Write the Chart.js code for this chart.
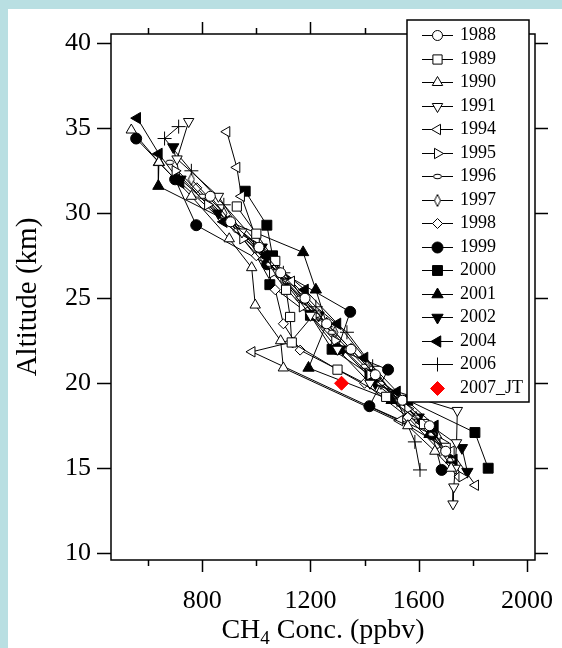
<!DOCTYPE html>
<html>
<head>
<meta charset="utf-8">
<script src="https://cdn.jsdelivr.net/npm/chart.js@4.4.1/dist/chart.umd.min.js"></script>
<style>
  html, body { margin: 0; padding: 0; background: #ffffff; }
  #chart { display: block; }
</style>
</head>
<body>
<canvas id="chart" width="562" height="648"></canvas>
<script>
// CH4 profiles, altitude (km) vs mixing ratio (ppbv)
const years = ['1988', '1989', '1990', '1991', '1994', '1995', '1996', '1997',
               '1998', '1999', '2000', '2001', '2002', '2004', '2006', '2007_JT'];

const alt1988 = [31.0, 29.5, 28.0, 26.5, 25.0, 23.5, 22.0, 20.5, 19.0, 17.5, 16.0];
const ch4_1988 = [830, 905, 1010, 1090, 1180, 1260, 1350, 1440, 1540, 1640, 1700];

const alt1989 = [30.4, 28.8, 27.2, 25.5, 23.9, 22.4, 20.8, 19.2, 17.6, 16.2];
const ch4_1989 = [928, 1000, 1070, 1110, 1125, 1131, 1300, 1480, 1620, 1700];

const alt1990 = [34.9, 33.0, 31.0, 28.5, 26.8, 24.6, 22.5, 20.9, 17.5, 16.0, 15.0];
const ch4_1990 = [538, 640, 760, 900, 983, 996, 1090, 1100, 1560, 1660, 1720];

const alt1991 = [35.4, 33.2, 31.0, 28.9, 26.5, 24.0, 22.0, 20.0, 18.4, 16.5, 15.0, 13.9, 12.9];
const ch4_1991 = [750, 707, 860, 947, 1080, 1200, 1300, 1420, 1743, 1740, 1735, 1730, 1727];

const alt1994 = [34.8, 32.7, 31.0, 28.5, 26.0, 24.0, 22.4, 21.85, 17.8, 16.0, 14.0];
const ch4_1994 = [891, 928, 945, 1000, 1130, 1210, 1125, 984, 1530, 1720, 1810];

const alt1995 = [32.5, 30.5, 28.5, 26.5, 24.5, 22.5, 20.5, 18.5, 16.5, 14.5];
const ch4_1995 = [700, 820, 950, 1060, 1170, 1290, 1420, 1560, 1690, 1760];

const alt1996 = [33.0, 31.0, 29.0, 27.0, 26.0, 25.0, 24.0, 23.0, 22.0, 21.0, 20.0, 19.0, 18.0, 17.0, 15.5];
const ch4_1996 = [680, 800, 930, 1050, 1110, 1160, 1220, 1280, 1340, 1400, 1460, 1530, 1590, 1650, 1720];

const alt1997 = [32.0, 30.0, 28.0, 27.0, 26.0, 25.0, 24.0, 23.0, 22.0, 21.0, 20.0, 19.0, 18.0, 16.0];
const ch4_1997 = [760, 880, 1000, 1050, 1100, 1170, 1230, 1290, 1350, 1410, 1460, 1530, 1590, 1700];

const alt1998 = [31.5, 29.5, 27.5, 25.5, 23.5, 21.95, 20.0, 18.0, 16.0, 14.5];
const ch4_1998 = [780, 900, 1000, 1070, 1100, 1162, 1400, 1560, 1680, 1750];

const alt1999 = [34.4, 32.0, 29.3, 27.0, 24.2, 22.0, 20.8, 18.65, 17.0, 14.9];
const ch4_1999 = [556, 700, 778, 1040, 1347, 1300, 1487, 1418, 1650, 1685];

const alt2000 = [31.3, 29.3, 27.5, 25.8, 24.0, 22.0, 20.5, 19.0, 17.1, 15.0];
const ch4_2000 = [959, 1039, 1060, 1050, 1200, 1280, 1420, 1560, 1808, 1857];

const alt2001 = [33.0, 31.6, 29.5, 27.7, 25.5, 23.5, 20.9, 19.0, 17.0, 15.5];
const ch4_2001 = [640, 638, 900, 1173, 1220, 1260, 1193, 1500, 1640, 1720];

const alt2002 = [33.9, 32.0, 30.0, 28.0, 26.0, 24.0, 22.0, 20.0, 18.0, 16.2, 14.8];
const ch4_2002 = [693, 720, 860, 1020, 1110, 1230, 1320, 1440, 1600, 1760, 1780];

const alt2004 = [35.6, 33.5, 31.8, 29.5, 27.5, 25.5, 23.5, 21.5, 19.5, 17.5, 15.5];
const ch4_2004 = [560, 640, 720, 880, 1030, 1180, 1300, 1400, 1520, 1660, 1730];

const alt2006 = [35.1, 34.4, 32.5, 30.5, 28.5, 26.5, 24.5, 23.0, 21.0, 19.0, 16.55, 14.9];
const ch4_2006 = [713, 661, 760, 880, 990, 1100, 1220, 1335, 1430, 1520, 1586, 1605];

const alt2007 = [20.0];
const ch4_2007 = [1315];

const altSeries = [alt1988, alt1989, alt1990, alt1991, alt1994, alt1995, alt1996, alt1997,
                   alt1998, alt1999, alt2000, alt2001, alt2002, alt2004, alt2006, alt2007];
const ch4Series = [ch4_1988, ch4_1989, ch4_1990, ch4_1991, ch4_1994, ch4_1995, ch4_1996, ch4_1997,
                   ch4_1998, ch4_1999, ch4_2000, ch4_2001, ch4_2002, ch4_2004, ch4_2006, ch4_2007];

const xMajorTicks = [800, 1200, 1600, 2000];
const xMinorTicks = [600, 1000, 1400, 1800];
const yTicks = [10, 15, 20, 25, 30, 35, 40];

const serif = "'Liberation Serif', 'Times New Roman', serif";

// small custom markers for 1996 and 1997
function makeMarker(w, h, path) {
    const c = document.createElement('canvas');
    c.width = w; c.height = h;
    const g = c.getContext('2d');
    g.beginPath();
    path(g);
    g.fillStyle = '#ffffff';
    g.fill();
    g.strokeStyle = '#000000';
    g.lineWidth = 1;
    g.stroke();
    return c;
}
const smallEllipse = makeMarker(10, 7, g => g.ellipse(5, 3.5, 4, 2.3, 0, 0, Math.PI * 2));
const thinDiamond = makeMarker(8, 13, g => {
    g.moveTo(4, 0.5); g.lineTo(7, 6.5); g.lineTo(4, 12.5); g.lineTo(1, 6.5); g.closePath();
});

const markers = [
    { style: 'circle', radius: 5, fill: '#ffffff' },
    { style: 'rect', radius: 6.5, fill: '#ffffff' },
    { style: 'triangle', radius: 6, fill: '#ffffff' },
    { style: 'triangle', radius: 6, rotation: 180, fill: '#ffffff' },
    { style: 'triangle', radius: 6, rotation: 270, fill: '#ffffff' },
    { style: 'triangle', radius: 6, rotation: 90, fill: '#ffffff' },
    { style: smallEllipse, radius: 4, fill: '#ffffff' },
    { style: thinDiamond, radius: 4, fill: '#ffffff' },
    { style: 'rectRot', radius: 5, fill: '#ffffff' },
    { style: 'circle', radius: 5.5, fill: '#000000' },
    { style: 'rect', radius: 7, fill: '#000000' },
    { style: 'triangle', radius: 6.5, fill: '#000000' },
    { style: 'triangle', radius: 6.5, rotation: 180, fill: '#000000' },
    { style: 'triangle', radius: 6.5, rotation: 270, fill: '#000000' },
    { style: 'cross', radius: 7, fill: '#000000' },
    { style: 'rectRot', radius: 7, fill: '#ff0000', stroke: '#ff0000', noLine: true }
];

const datasets = years.map((yr, i) => {
    const m = markers[i];
    return {
        label: yr,
        data: altSeries[i].map((a, j) => ({ x: ch4Series[i][j], y: a })),
        showLine: !m.noLine,
        borderColor: '#000000',
        borderWidth: 1,
        pointStyle: m.style,
        pointRadius: m.radius,
        pointRotation: m.rotation || 0,
        pointBackgroundColor: m.fill,
        pointBorderColor: m.stroke || '#000000',
        pointBorderWidth: 1,
        order: m.noLine ? -1 : 0
    };
});

// white page with the light blue strips at top and left
const pagePlugin = {
    id: 'page',
    beforeDraw(chart) {
        const ctx = chart.ctx;
        ctx.save();
        ctx.fillStyle = '#ffffff';
        ctx.fillRect(0, 0, chart.width, chart.height);
        ctx.fillStyle = '#b9dfe2';
        ctx.fillRect(0, 0, chart.width, 9);
        ctx.fillRect(0, 0, 8, chart.height);
        ctx.restore();
    }
};

// frame, outward ticks on all four sides, axis titles
const framePlugin = {
    id: 'frame',
    beforeDatasetsDraw(chart) {
        const { ctx, chartArea: a, scales: { x, y } } = chart;
        ctx.save();
        ctx.strokeStyle = '#000000';
        ctx.lineWidth = 1.5;
        ctx.strokeRect(a.left, a.top, a.right - a.left, a.bottom - a.top);
        ctx.beginPath();
        xMajorTicks.forEach(v => {
            const px = Math.round(x.getPixelForValue(v)) + 0.5;
            ctx.moveTo(px, a.bottom); ctx.lineTo(px, a.bottom + 12);
            ctx.moveTo(px, a.top); ctx.lineTo(px, a.top - 12);
        });
        xMinorTicks.forEach(v => {
            const px = Math.round(x.getPixelForValue(v)) + 0.5;
            ctx.moveTo(px, a.bottom); ctx.lineTo(px, a.bottom + 6);
            ctx.moveTo(px, a.top); ctx.lineTo(px, a.top - 6);
        });
        yTicks.forEach(v => {
            const py = Math.round(y.getPixelForValue(v)) + 0.5;
            ctx.moveTo(a.left - 14, py); ctx.lineTo(a.left, py);
            ctx.moveTo(a.right, py); ctx.lineTo(a.right + 13, py);
        });
        ctx.stroke();

        ctx.fillStyle = '#000000';
        // y title
        ctx.save();
        ctx.translate(28, (a.top + a.bottom) / 2);
        ctx.rotate(-Math.PI / 2);
        ctx.font = '29px ' + serif;
        ctx.textAlign = 'center';
        ctx.textBaseline = 'middle';
        ctx.fillText('Altitude (km)', 0, 0);
        ctx.restore();
        // x title with subscript
        const big = '28px ' + serif, small = '19px ' + serif;
        ctx.textBaseline = 'alphabetic';
        ctx.font = big;
        const w1 = ctx.measureText('CH').width;
        const w3 = ctx.measureText(' Conc. (ppbv)').width;
        ctx.font = small;
        const w2 = ctx.measureText('4').width;
        let sx = (a.left + a.right) / 2 - (w1 + w2 + w3) / 2;
        const base = 638;
        ctx.font = big; ctx.fillText('CH', sx, base); sx += w1;
        ctx.font = small; ctx.fillText('4', sx, base + 6); sx += w2;
        ctx.font = big; ctx.fillText(' Conc. (ppbv)', sx, base);
        ctx.restore();
    }
};

// boxed legend with line-through-marker samples
const legendPlugin = {
    id: 'boxLegend',
    afterDraw(chart) {
        const ctx = chart.ctx;
        const bx = 407, by = 20, bw = 122, bh = 382;
        ctx.save();
        ctx.fillStyle = '#ffffff';
        ctx.fillRect(bx, by, bw, bh);
        ctx.strokeStyle = '#000000';
        ctx.lineWidth = 1.5;
        ctx.strokeRect(bx, by, bw, bh);
        ctx.font = '18px ' + serif;
        ctx.textBaseline = 'middle';
        chart.data.datasets.forEach((ds, i) => {
            const cy = Math.round(35 + i * 23.5) + 0.5;
            if (ds.showLine) {
                ctx.strokeStyle = '#000000';
                ctx.lineWidth = 1;
                ctx.beginPath();
                ctx.moveTo(422, cy); ctx.lineTo(453, cy);
                ctx.stroke();
            }
            ctx.fillStyle = ds.pointBackgroundColor;
            ctx.strokeStyle = ds.pointBorderColor;
            ctx.lineWidth = 1;
            Chart.helpers.drawPoint(ctx, {
                pointStyle: ds.pointStyle,
                rotation: ds.pointRotation,
                radius: ds.pointRadius,
                borderWidth: 1
            }, 437.5, cy);
            ctx.fillStyle = '#000000';
            ctx.fillText(ds.label, 460, cy);
        });
        ctx.restore();
    }
};

new Chart(document.getElementById('chart'), {
    type: 'scatter',
    data: { datasets },
    options: {
        responsive: false,
        animation: false,
        devicePixelRatio: 1,
        layout: { padding: { top: 34, right: 27, left: 0, bottom: 0 } },
        scales: {
            x: {
                type: 'linear',
                min: 463,
                max: 2030,
                afterBuildTicks: s => { s.ticks = xMajorTicks.map(v => ({ value: v })); },
                afterFit: s => { s.height = 88; s.paddingLeft = 0; s.paddingRight = 0; },
                grid: { display: false, drawTicks: false },
                border: { display: false },
                ticks: {
                    color: '#000000',
                    padding: 26,
                    maxRotation: 0,
                    font: { family: serif, size: 26 },
                    callback: v => String(v)
                }
            },
            y: {
                type: 'linear',
                min: 9.6,
                max: 40.55,
                afterBuildTicks: s => { s.ticks = yTicks.map(v => ({ value: v })); },
                afterFit: s => { s.width = 111; s.paddingTop = 0; s.paddingBottom = 0; },
                grid: { display: false, drawTicks: false },
                border: { display: false },
                ticks: {
                    color: '#000000',
                    padding: 20,
                    font: { family: serif, size: 26 },
                    callback: v => String(v)
                }
            }
        },
        plugins: {
            legend: { display: false },
            tooltip: { enabled: false }
        }
    },
    plugins: [pagePlugin, framePlugin, legendPlugin]
});
</script>
</body>
</html>
